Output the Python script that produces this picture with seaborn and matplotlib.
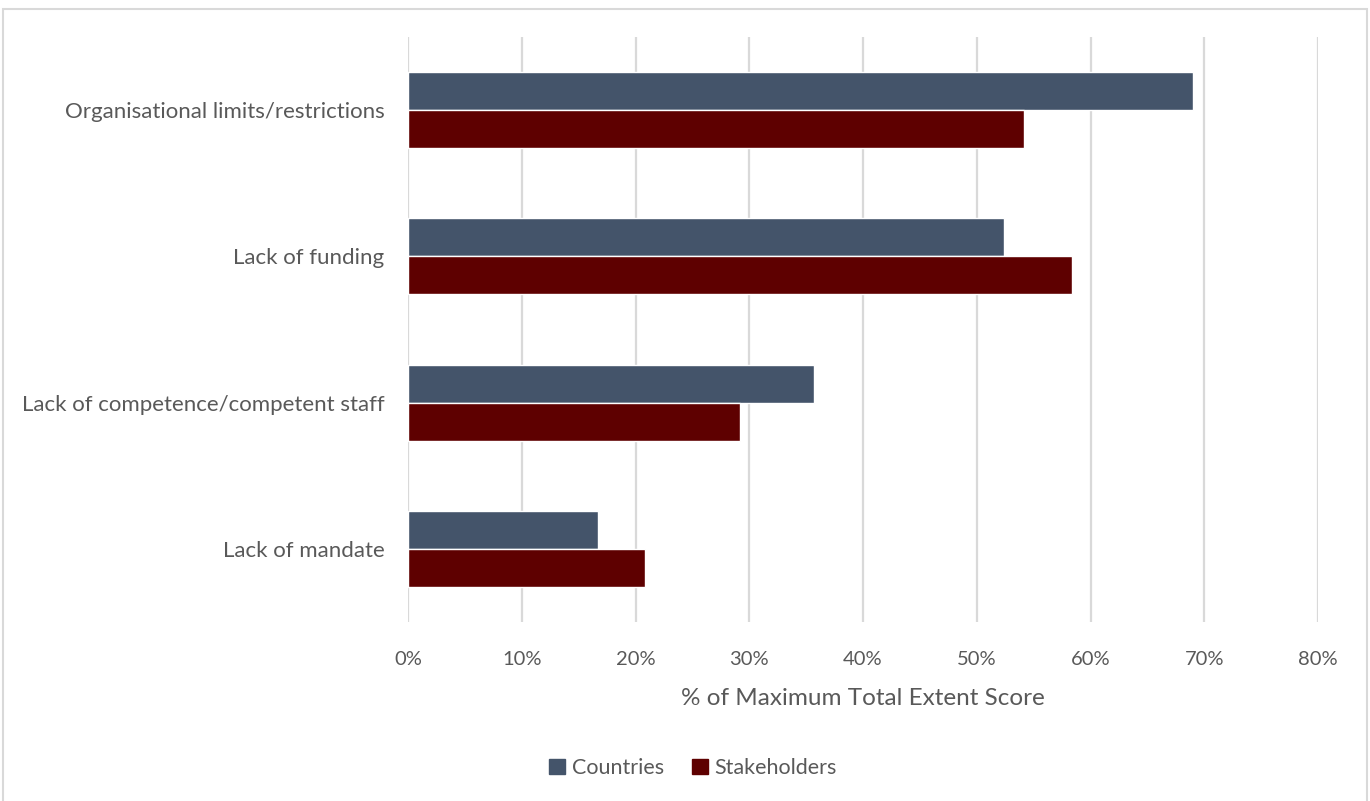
import pandas as pd
import numpy as np
import matplotlib.pyplot as plt
import matplotlib.patches as mpatches
import seaborn as sns

# Data
categories = ['Organisational limits/restrictions', 'Lack of funding',
              'Lack of competence/competent staff', 'Lack of mandate']
countries = [69.05, 52.38, 35.71, 16.67]
stakeholders = [54.17, 58.33, 29.17, 20.83]
series = ['Countries', 'Stakeholders']
colors = ['#44546A', '#5E0000']
xticks = [0, 10, 20, 30, 40, 50, 60, 70, 80]

df = pd.DataFrame({
    'category': categories * 2,
    'series': [series[0]] * 4 + [series[1]] * 4,
    'value': countries + stakeholders,
})

sns.set_style('white')
plt.rcParams['font.family'] = ['Lato', 'DejaVu Sans']
text_col = '#595959'

fig = plt.figure(figsize=(13.7, 8.01), dpi=100)
ax = fig.add_axes([408 / 1370, 1 - 622 / 801, 910 / 1370, 585 / 801])

sns.barplot(data=df, y='category', x='value', hue='series', orient='h',
            order=categories, hue_order=series, palette=colors,
            width=0.52, ax=ax, legend=False, saturation=1)

ax.set_xlim(0, 80)
ax.set_xticks(xticks)
ax.set_xticklabels([f'{t}%' for t in xticks], fontsize=14.5, color=text_col)
ax.tick_params(axis='y', labelsize=16, labelcolor=text_col, length=0, pad=17)
ax.tick_params(axis='x', length=0, pad=21)
ax.set_ylabel('')
ax.set_xlabel('% of Maximum Total Extent Score', fontsize=17.5, color=text_col, labelpad=14)
ax.grid(axis='x', color='#D9D9D9', linewidth=1.6)
ax.set_axisbelow(True)
for s in ax.spines.values():
    s.set_visible(False)

# legend
handles = [mpatches.Patch(color=c, label=s) for c, s in zip(colors, series)]
fig.legend(handles=handles, loc='center', bbox_to_anchor=(693 / 1370, 1 - 768 / 801),
           ncol=2, frameon=False, fontsize=15.5, handlelength=0.75, handleheight=0.75,
           handletextpad=0.3, columnspacing=1.3, labelcolor=text_col)

# outer chart frame
frame = mpatches.Rectangle((3 / 1370, -0.02), 1364 / 1370, 1 - 9 / 801 + 0.02,
                           transform=fig.transFigure, fill=False,
                           edgecolor='#D9D9D9', linewidth=1.5)
fig.patches.append(frame)

plt.savefig('out.png', dpi=100)
